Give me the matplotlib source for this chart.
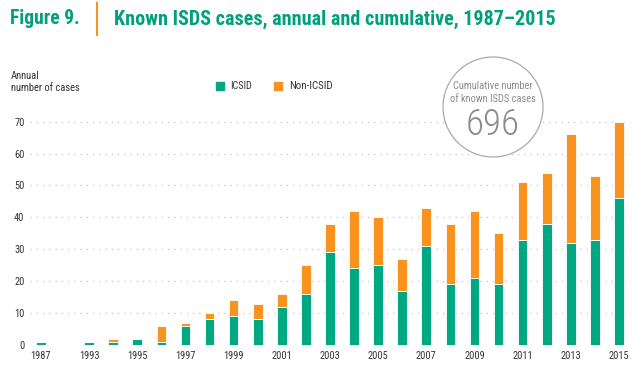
import matplotlib
matplotlib.use("Agg")
import matplotlib.pyplot as plt
from matplotlib import font_manager
from matplotlib.patches import Circle, Rectangle

# pick a narrow face if one is installed
installed = {f.name for f in font_manager.fontManager.ttflist}
narrow = [n for n in ['Liberation Sans Narrow', 'Roboto Condensed', 'DejaVu Sans Condensed',
                      'Open Sans Condensed'] if n in installed]
plt.rcParams['font.family'] = narrow[:1] + ['DejaVu Sans']

# data
years = [1987, 1993, 1994, 1995, 1996, 1997, 1998, 1999, 2000, 2001, 2002, 2003,
         2004, 2005, 2006, 2007, 2008, 2009, 2010, 2011, 2012, 2013, 2014, 2015]
icsid = [1, 1, 1, 2, 1, 6, 8, 9, 8, 12, 16, 29, 24, 25, 17, 31, 19, 21, 19, 33, 38, 32, 33, 46]
non_icsid = [0, 0, 1, 0, 5, 1, 2, 5, 5, 4, 9, 9, 18, 15, 10, 12, 19, 21, 16, 18, 16, 34, 20, 24]
tick_years = [1987, 1993, 1995, 1997, 1999, 2001, 2003, 2005, 2007, 2009, 2011, 2013, 2015]
yticks = [0, 10, 20, 30, 40, 50, 60, 70]

GREEN = '#00A882'
ORANGE = '#F7931E'
TITLE_GREEN = '#00A07C'
TEXT = '#333333'
GREY = '#8c8c8c'

# 1987 sits one empty slot before 1993
pos = [0] + [i + 2 for i in range(len(years) - 1)]
pos_of = dict(zip(years, pos))

fig = plt.figure(figsize=(6.4, 3.69), dpi=100)
renderer = fig.canvas.get_renderer()


def fit(t, width_px):
    # scale the text so its width matches the reference
    w = t.get_window_extent(renderer).width
    t.set_fontsize(t.get_fontsize() * width_px / w)
    return t


def px(x, y):
    return x / 640, 1 - y / 369


ax = fig.add_axes([0.047, 0.065, 0.939, 0.6485])

ax.bar(pos, icsid, width=0.4, color=GREEN, edgecolor='white', linewidth=0.6, zorder=3)
ax.bar(pos, non_icsid, width=0.4, bottom=icsid, color=ORANGE, edgecolor='white',
       linewidth=0.6, zorder=3)

ax.set_xlim(-0.45, 24.5)
ax.set_ylim(0, 75)
ax.set_yticks(yticks)
ax.set_yticklabels([str(v) for v in yticks], fontsize=7.5, color=TEXT)
ax.set_xticks([pos_of[y] for y in tick_years])
ax.set_xticklabels([str(y) for y in tick_years], fontsize=7.5, color=TEXT)
ax.tick_params(length=0, pad=4)
for s in ax.spines.values():
    s.set_visible(False)
for v in yticks[1:]:
    ax.axhline(v, color='#c4c4c4', lw=0.9, linestyle=(0, (1, 4)), zorder=1)

# title block
fit(fig.text(*px(10, 19), 'Figure 9.', fontsize=14, fontweight='bold',
             color=TITLE_GREEN, va='center', ha='left'), 70)
fig.add_artist(plt.Line2D([97 / 640, 97 / 640], [1 - 3 / 369, 1 - 35 / 369],
                          color=ORANGE, lw=1.5))
fit(fig.text(*px(114, 19), 'Known ISDS cases, annual and cumulative, 1987\u20132015',
             fontsize=14, fontweight='bold', color=TITLE_GREEN, va='center', ha='left'),
    443)

fit(fig.text(*px(11, 76), 'Annual', fontsize=7, color=TEXT, va='center', ha='left'), 29)
fit(fig.text(*px(11, 88), 'number of cases', fontsize=7, color=TEXT, va='center', ha='left'),
    70)

# legend
fig.add_artist(Rectangle(px(216, 90), 8 / 640, 8 / 369, color=GREEN,
                         transform=fig.transFigure))
fit(fig.text(*px(230, 86), 'ICSID', fontsize=7, color=TEXT, va='center'), 22)
fig.add_artist(Rectangle(px(274, 90), 8 / 640, 8 / 369, color=ORANGE,
                         transform=fig.transFigure))
fit(fig.text(*px(289, 86), 'Non-ICSID', fontsize=7, color=TEXT, va='center'), 44)

# cumulative circle
total = sum(icsid) + sum(non_icsid)
fig.add_artist(Circle((4.93, 3.69 - 1.07), 0.50, transform=fig.dpi_scale_trans,
                      facecolor='white', edgecolor='#aaaaaa', lw=0.9, zorder=5))
fit(fig.text(*px(493, 86), 'Cumulative number', fontsize=8, color=GREY,
             ha='center', va='center', zorder=6), 80)
fit(fig.text(*px(493, 99), 'of known ISDS cases', fontsize=8, color=GREY,
             ha='center', va='center', zorder=6), 86)
fit(fig.text(*px(493, 125), str(total), fontsize=28, color=GREY,
             ha='center', va='center', fontweight='light', zorder=6), 54)

fig.savefig('out.png', dpi=100)
